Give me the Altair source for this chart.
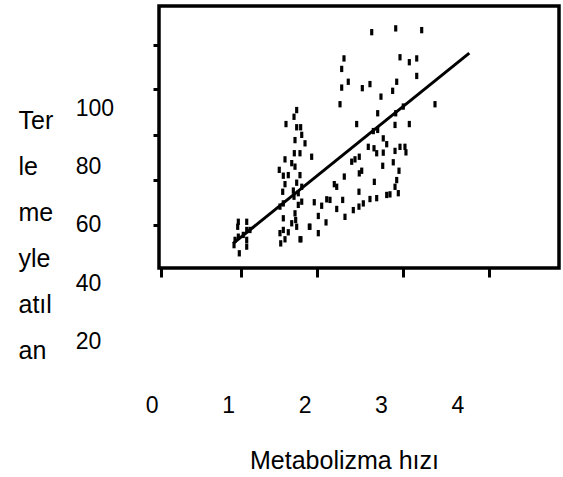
import altair as alt
import pandas as pd

# Metabolizma hızı (x) and terleme (y) values
metab = [2.873, 3.187, 3.527, 2.510, 2.480, 3.243, 3.365, 3.462, 3.462, 2.566,
         2.480, 2.750, 2.850, 3.200, 3.147, 2.994, 2.458, 3.701, 2.951, 3.187,
         3.286, 2.676, 3.178, 3.365, 2.951, 2.894,
         1.891, 1.856, 1.751, 1.891, 1.943, 1.957, 1.869, 2.000, 1.860, 1.934,
         2.087, 1.738, 1.826, 1.869, 1.663, 1.716, 1.781, 1.934, 1.738, 1.891,
         1.957, 1.708, 1.847, 1.912, 1.856, 1.716, 1.672, 1.957, 1.912, 1.869,
         1.716, 1.878, 1.826, 1.891, 2.056, 1.716, 1.672, 1.781, 1.738, 1.682,
         1.934, 2.174,
         1.127, 1.119, 1.237, 1.237, 1.237, 1.237, 1.084, 1.071, 1.127, 1.192,
         1.140, 1.280,
         2.121, 2.218, 2.327, 2.415, 2.493, 2.523, 2.632, 2.706, 2.763, 2.850,
         2.938, 3.069, 3.112, 3.221, 3.178, 3.200, 2.907, 2.706, 2.415, 2.383,
         2.514, 2.710, 2.742, 3.017, 3.230, 3.155, 2.611, 2.654, 2.710, 2.828,
         2.903, 2.938, 3.024, 3.069, 3.024, 3.178, 3.243, 3.308, 3.321, 2.174,
         2.275, 2.065, 1.947, 2.284]
sweat = [126.2, 127.5, 126.9, 117.2, 113.6, 117.6, 115.9, 117.2, 111.2, 109.2,
         107.2, 107.0, 108.4, 109.2, 106.1, 104.1, 101.5, 101.5, 98.4, 98.4,
         100.7, 94.7, 94.4, 94.7, 92.7, 92.3,
         99.5, 97.2, 94.7, 93.6, 93.6, 91.0, 89.2, 88.1, 84.7, 84.7,
         83.5, 82.6, 81.3, 80.1, 79.0, 77.0, 77.2, 77.2, 74.1, 74.6,
         73.2, 71.5, 71.9, 71.0, 69.8, 67.5, 66.4, 68.1, 67.0, 64.1,
         62.4, 61.8, 60.7, 59.5, 59.5, 58.4, 57.3, 57.6, 55.2, 53.8,
         55.2, 57.3,
         61.2, 59.5, 61.2, 58.4, 55.0, 52.7, 55.0, 53.2, 56.1, 56.7,
         50.4, 58.4,
         67.9, 66.7, 68.7, 65.6, 68.7, 62.9, 65.2, 66.4, 67.5, 69.0,
         69.3, 70.4, 70.6, 71.0, 73.2, 75.5, 74.9, 71.5, 73.2, 74.1,
         76.7, 77.8, 78.7, 80.4, 78.7, 81.6, 81.8, 82.6, 83.5, 86.9,
         86.4, 84.7, 84.9, 87.8, 89.8, 85.5, 86.9, 86.9, 85.0, 63.2,
         61.0, 59.5, 55.2, 68.9]

# fitted line end points
fit_x = [1.06, 4.15]
fit_y = [53.8, 119.0]

# tick marks on the frame and the tick label texts
x_tick_values = [0.115, 1.162, 2.157, 3.283, 4.408]
y_tick_values = [121.8, 106.6, 90.95, 75.5, 60.0]
x_labels = [0, 1, 2, 3, 4]
y_labels = [100, 80, 60, 40, 20]

y_title = ["Ter", "le", "me", "yle", "atıl", "an"]
x_title = "Metabolizma hızı"

FONT = "Liberation Sans"
BAR = "M-0.5,-1L0.5,-1L0.5,1L-0.5,1Z"

x_scale = alt.Scale(domain=[0.089, 5.324], nice=False, zero=False)
y_scale = alt.Scale(domain=[45.36, 135.17], nice=False, zero=False)

x_axis = alt.Axis(values=x_tick_values, labels=False, domain=False, grid=False,
                  ticks=True, tickSize=9, tickWidth=3, tickColor="black",
                  title=x_title, titleFont=FONT, titleFontSize=25,
                  titleFontWeight="normal", titleColor="black",
                  titleX=185, titleY=200, titleAlign="center",
                  titleBaseline="alphabetic")
y_axis = alt.Axis(values=y_tick_values, labels=False, domain=False, grid=False,
                  ticks=True, tickSize=6, tickWidth=3, tickColor="black",
                  title=y_title, titleFont=FONT, titleFontSize=25,
                  titleFontWeight="normal", titleColor="black",
                  titleAngle=0, titleAlign="left", titleBaseline="alphabetic",
                  titleX=-141, titleY=122, titleLineHeight=46)

pts = pd.DataFrame({"x": metab, "y": sweat})
fit = pd.DataFrame({"x": fit_x, "y": fit_y})
xl = pd.DataFrame({"x": x_labels, "t": [str(v) for v in x_labels]})
yl = pd.DataFrame({"y": y_labels, "t": [str(v) for v in y_labels]})

points = alt.Chart(pts).mark_point(shape=BAR, size=40, color="black",
                                   filled=True, opacity=1).encode(
    x=alt.X("x:Q", scale=x_scale, axis=x_axis, title=x_title),
    y=alt.Y("y:Q", scale=y_scale, axis=y_axis, title=y_title),
)

line = alt.Chart(fit).mark_line(color="black", strokeWidth=3).encode(
    x=alt.X("x:Q", scale=x_scale, title=x_title),
    y=alt.Y("y:Q", scale=y_scale, title=y_title),
)

xlab = alt.Chart(xl).mark_text(font=FONT, fontSize=23, color="black",
                               align="center", baseline="middle").encode(
    x=alt.X("x:Q", scale=x_scale, title=x_title),
    y=alt.datum(-2),
    text="t:N",
)

ylab = alt.Chart(yl).mark_text(font=FONT, fontSize=23, color="black",
                               align="left", baseline="middle").encode(
    x=alt.datum(-1),
    y=alt.Y("y:Q", scale=y_scale, title=y_title),
    text="t:N",
)

chart = alt.layer(points, line, xlab, ylab).properties(
    width=400, height=262,
    background="white",
    autosize=alt.AutoSizeParams(type="none"),
    padding={"left": 159, "top": 6, "right": 4, "bottom": 209},
).configure_view(stroke="black", strokeWidth=3.5, fill="white")

chart.save("out.html", embed_options={"renderer": "svg", "actions": False})
